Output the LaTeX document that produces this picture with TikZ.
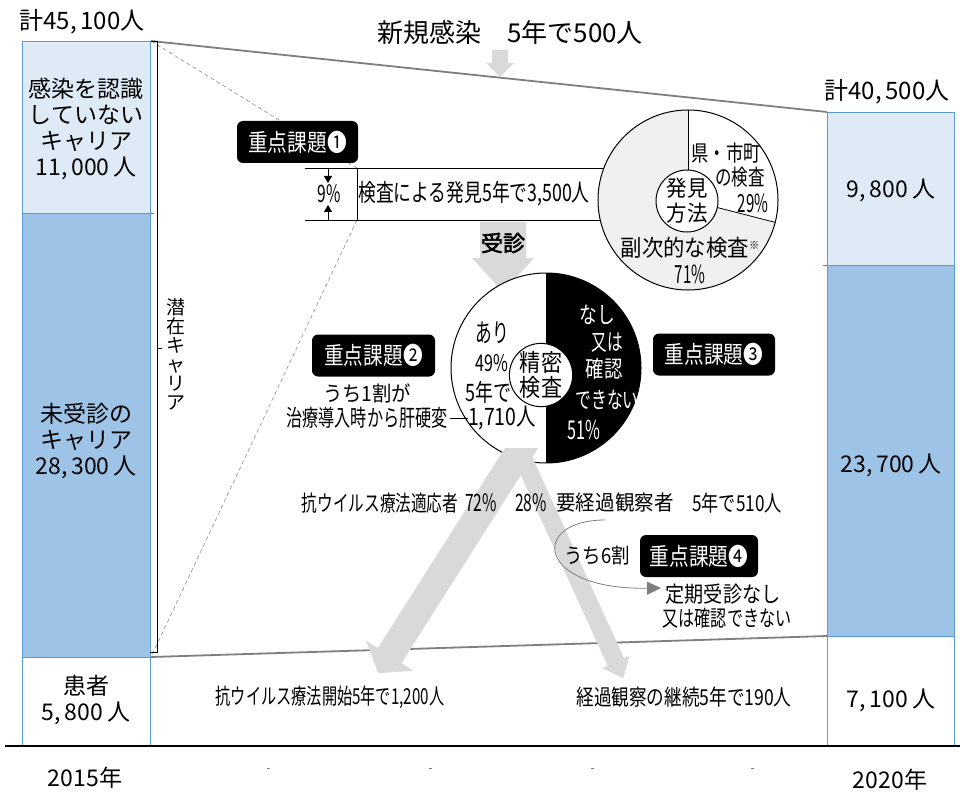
\documentclass[tikz,border=0pt]{standalone}
\usepackage{fontspec}
\setmainfont{Noto Sans CJK JP}
\newfontfamily\boldjp[FakeBold=2.5]{Noto Sans CJK JP}
\newcommand\jpx[1]{\fontspec[FakeStretch=#1]{Noto Sans CJK JP}}
\usetikzlibrary{arrows.meta}
\newcommand\fsz[2]{\fontsize{#1}{#2}\selectfont}
\definecolor{lblue}{HTML}{DEEBF7}
\definecolor{dblue}{HTML}{9DC3E6}
\definecolor{bord}{HTML}{5B9BD5}
\definecolor{arrgray}{HTML}{D9D9D9}
\definecolor{linegray}{HTML}{7F7F7F}
\definecolor{piegray}{HTML}{F0F0F0}
\begin{document}
\begin{tikzpicture}[x=1pt,y=-1pt,
  colbox/.style={draw=bord, line width=1pt, inner sep=0pt, anchor=north west},
  lab/.style={inner sep=0pt, align=center, font=\fsz{23}{25.7}},
  txt/.style n args={3}{inner sep=0pt, align=center, font=\jpx{#1}\fsz{#2}{#3}},
  badge/.style={fill=black, text=white, rounded corners=6pt, inner sep=0pt, minimum height=42pt, font=\jpx{0.82}\fsz{24}{26}},
  trap/.style={draw=linegray, line width=1.8pt},
  thindash/.style={draw=gray, line width=0.5pt, dash pattern=on 4pt off 3pt},
  bigarrow/.style={fill=arrgray},
  inner/.style={circle, draw, fill=white, line width=1pt, inner sep=0pt, align=center},
]
\useasboundingbox (0,0) rectangle (960,794);
\fill[white] (0,0) rectangle (960,794);

% ---- columns
\node[colbox, fill=lblue, minimum width=128pt, minimum height=172pt] (L1) at (22,41) {};
\node[colbox, fill=dblue, minimum width=128pt, minimum height=444pt] (L2) at (22,213) {};
\node[colbox, fill=white, minimum width=128pt, minimum height=89pt] (L3) at (22,657) {};
\node[colbox, fill=lblue, minimum width=127pt, minimum height=153pt] (R1) at (827,112) {};
\node[colbox, fill=dblue, minimum width=127pt, minimum height=371pt] (R2) at (827,265) {};
\node[colbox, fill=white, minimum width=127pt, minimum height=110pt] (R3) at (827,636) {};
\draw[linegray, line width=0.6pt] (L2.north east) -- ++(3,0);
\draw[linegray, line width=0.6pt] (R2.north west) -- ++(-4,0);

% ---- baseline
\coordinate (bl0) at (5,746);
\coordinate (bl1) at (960,746);
\draw[line width=1.8pt] (bl0) -- (bl1);
\foreach \tx in {268,430,592,752} \draw[gray, line width=0.7pt] (\tx-1.5,768) -- (\tx+1.5,768);

% ---- trapezoid lines
\draw[trap] (L1.north east) -- (R1.north west);
\draw[trap] (L3.north east) -- (R3.north west);

% ---- dashed guide lines
\coordinate (bxtl) at (357,168);
\coordinate (bxbl) at (357,220);
\coordinate (dashend) at (152,655);
\draw[thindash] (L1.north east) -- (bxtl);
\draw[thindash] (bxbl) -- (dashend);

% ---- bracket
\coordinate (brt) at (157,41);
\coordinate (brb) at (157,652);
\draw[line width=0.8pt] (L1.north east) -- (brt) -- (brb) -- (150,652);
\draw[line width=0.8pt] (157,348) -- (162,348);
\node[inner sep=0pt, align=center, font=\fsz{19}{19}] (sen) at (176,354) {潜\\在\\キ\\ャ\\リ\\ア};

% ---- box of found
\draw[line width=0.9pt] (305,168) -- (650,168);
\draw[line width=0.9pt] (305,220) -- (650,220);
\draw[line width=0.9pt] (bxtl) -- (bxbl);
\coordinate (a9t) at (328,168);
\coordinate (a9b) at (328,220);
\draw[line width=0.8pt, -{Triangle[length=7pt,width=8pt]}] (a9t) -- ++(0,15);
\draw[line width=0.8pt, -{Triangle[length=7pt,width=8pt]}] (a9b) -- ++(0,-15);
\node[txt={0.65}{24}{26}] (p9) at (329,194) {9\%};
\node[txt={0.74}{24}{26}] (found) at (474,194) {検査による発見5年で3,500人};

% ---- new infection arrow and title
\node[inner sep=0pt, font=\fsz{26}{28}] (title) at (510,33) {新規感染　5年で500人};
\fill[bigarrow] (492,50) -- (508,50) -- (508,63) -- (514,63) -- (500,77) -- (486,63) -- (492,63) -- cycle;

% ---- jushin arrow
\fill[bigarrow] (480,222) -- (526,222) -- (526,258) -- (534,258) -- (503,292) -- (472,258) -- (480,258) -- cycle;
\node[inner sep=0pt, font=\boldjp\fsz{22}{24}] (jushin) at (503,243) {受診};

% ---- pie 1
\coordinate (c1) at (688,200);
\fill[piegray] (c1) circle[radius=90pt];
\fill[white] (c1) -- ++(-14.4:90pt) arc[start angle=-14.4, end angle=90, radius=90pt] -- cycle;
\draw[line width=1pt] (c1) circle[radius=90pt];
\draw[line width=0.8pt] (c1) -- ++(90:90pt);
\draw[line width=0.8pt] (c1) -- ++(-14.4:90pt);
\node[inner, minimum size=62pt, font=\jpx{0.93}\fsz{22}{25}] (m1) at (687,201) {発見\\方法};
\node[txt={0.79}{22}{24}] (k1a) at (726,153) {県・市町};
\node[txt={0.75}{22}{24}] (k1b) at (740,177) {の検査};
\node[txt={0.6}{25}{27}] (k1c) at (753,203) {29\%};
\node[txt={0.93}{23}{25}] (k1d) at (690,248) {副次的な検査\raisebox{7pt}{\fsz{11}{11}※}};
\node[txt={0.6}{25}{27}] (k1e) at (690,274) {71\%};

% ---- pie 2
\coordinate (c2) at (546,368);
\fill[white] (c2) circle[radius=95pt];
\fill[black] (c2) -- ++(-90:95pt) arc[start angle=-90, end angle=90, radius=95pt] -- cycle;
\draw[line width=1pt] (c2) circle[radius=95pt];
\node[inner, minimum size=60pt, font=\jpx{0.88}\fsz{24}{25}] (m2) at (541,375) {精密\\検査};
\node[txt={0.64}{26}{28}] (ari1) at (492,333) {あり};
\node[txt={0.7}{23}{25}] (ari2) at (492,363) {49\%};
\node[txt={0.75}{24}{26}] (ari3) at (488,392) {5年で};
\node[txt={0.81}{24}{26}] (ari4) at (502,418) {1,710人};
\node[txt={0.77}{23}{25}, text=white] (na1) at (597,315) {なし};
\node[txt={0.68}{23}{25}, text=white] (na2) at (607,343) {又は};
\node[txt={0.8}{23}{25}, text=white] (na3) at (604,369) {確認};
\node[txt={0.69}{23}{25}, text=white] (na4) at (607,400) {できない};
\node[txt={0.62}{26}{28}, text=white] (na5) at (584,430) {51\%};

% ---- left note
\node[txt={0.92}{21}{24}] (note1) at (367,393) {うち1割が};
\node[txt={0.7}{23}{25}] (note2) at (367,418) {治療導入時から肝硬変};
\draw[line width=0.8pt] (note2.east) ++(2,0) -- (ari4.west);

% ---- bottom big arrows
\fill[bigarrow] (505,448) -- (377.8,648.1) -- (366.0,640.6) -- (378.3,673.3) -- (413.2,670.6) -- (401.4,663.1) -- (538,448) -- cycle;
\fill[bigarrow] (508.4,448) -- (607.6,665.6) -- (602.2,668.1) -- (623.3,678.3) -- (629.5,655.7) -- (624,658.2) -- (528.1,448) -- cycle;

% ---- split labels
\node[txt={0.71}{22}{24}] (t72a) at (380,503) {抗ウイルス療法適応者};
\node[txt={0.65}{24}{26}] (t72b) at (481,503) {72\%};
\node[txt={0.65}{24}{26}] (t28a) at (531,503) {28\%};
\node[txt={0.93}{21}{24}] (t28b) at (615,503) {要経過観察者};
\node[txt={0.78}{22}{24}] (t28c) at (737,503) {5年で510人};

% ---- curved arrow
\node[txt={0.88}{21}{24}] (six) at (597,556) {うち6割};
\node[txt={0.87}{22}{24}] (teiki1) at (723,594) {定期受診なし};
\node[txt={0.73}{22}{24}] (teiki2) at (727,618) {又は確認できない};
\coordinate (cv0) at (605,520);
\coordinate (cv1) at (661,588);
\draw[linegray, line width=0.8pt, -{Triangle[length=14pt,width=13pt]}] (cv0) .. controls (530,520) and (535,590) .. (cv1);

% ---- bottom labels
\node[txt={0.69}{22}{24}] (res1) at (330,697) {抗ウイルス療法開始5年で1,200人};
\node[txt={0.8}{22}{24}] (res2) at (684,697) {経過観察の継続5年で190人};

% ---- badges
\node[badge, minimum width=121pt] (b1) at (297.5,142) {重点課題❶};
\node[badge, minimum width=123pt] (b2) at (373.5,355.5) {重点課題❷};
\node[badge, minimum width=122pt] (b3) at (714,354.5) {重点課題❸};
\node[badge, minimum width=118pt] (b4) at (699,556) {重点課題❹};

% ---- column texts
\node[lab, font=\fsz{24}{26}] (tot15) at (82,22) {計45,\,100人};
\node[lab, font=\fsz{24}{26}] (tot20) at (887,92) {計40,\,500人};
\node[lab] (y15) at (85,778) {2015年};
\node[lab] (y20) at (890,780) {2020年};
\node[lab] (l1t) at (86,129) {感染を認識\\していない\\キャリア\\11,\,000\,人};
\node[lab] (l2t) at (86,441) {未受診の\\キャリア\\28,\,300\,人};
\node[lab] (l3t) at (86,700) {患者\\5,\,800\,人};
\node[lab] (r1t) at (891,190) {9,\,800\,人};
\node[lab] (r2t) at (891,465) {23,\,700\,人};
\node[lab] (r3t) at (891,700) {7,\,100\,人};
\end{tikzpicture}
\end{document}
